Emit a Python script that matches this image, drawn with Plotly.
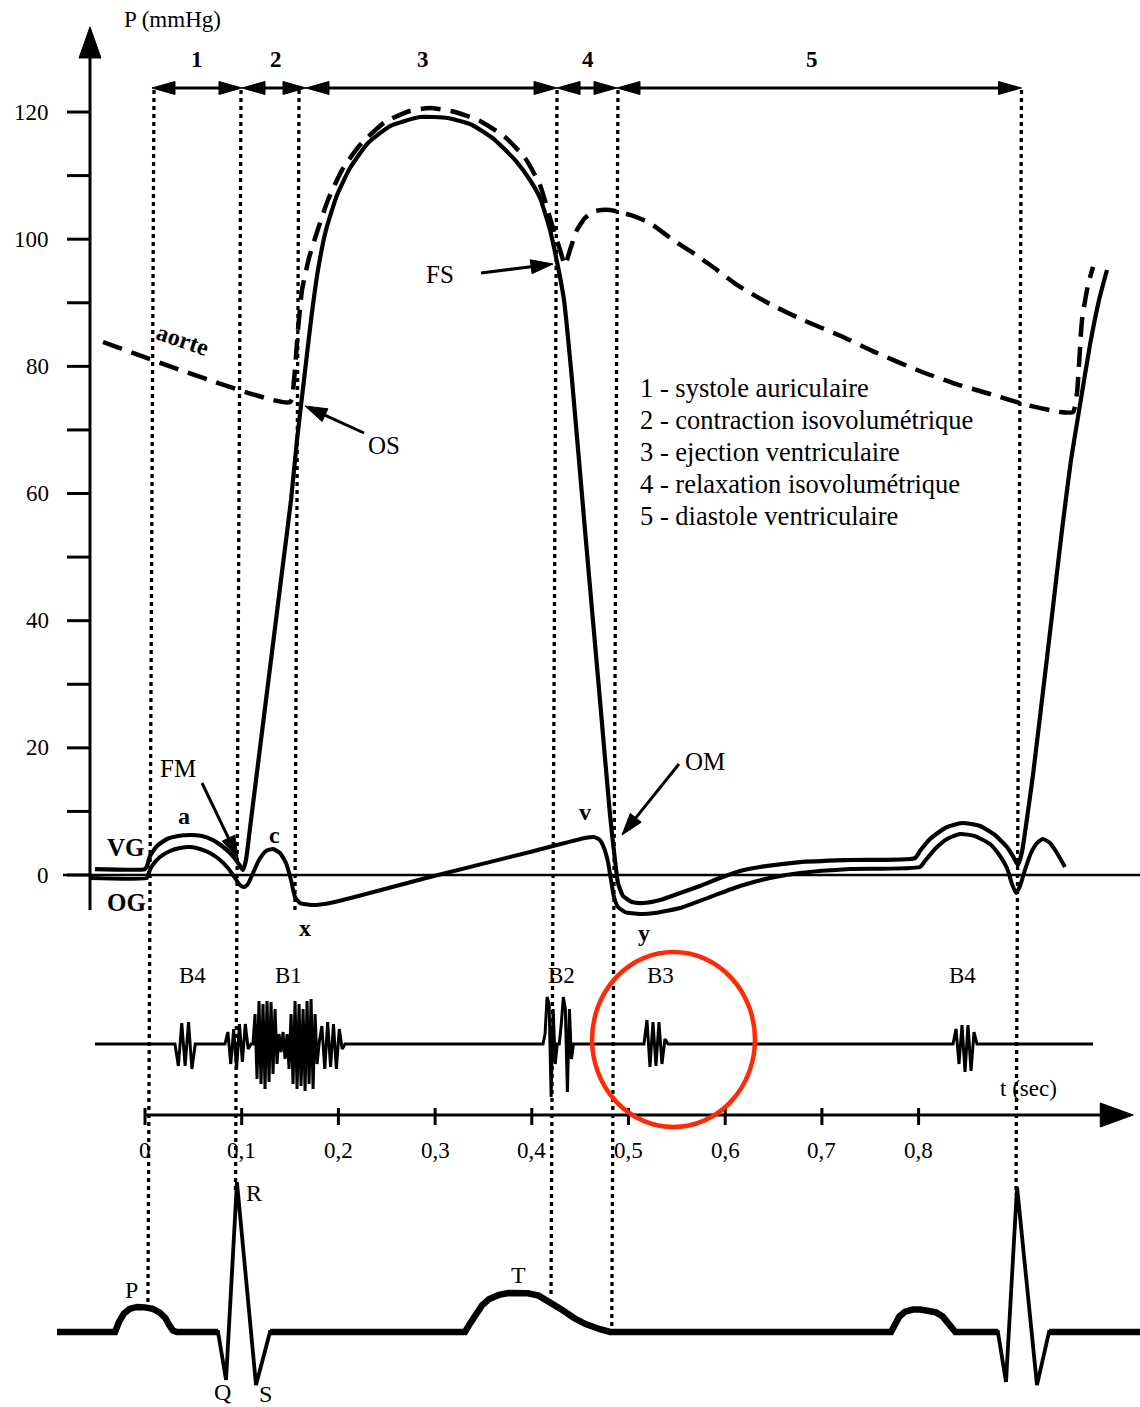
import math
import plotly.graph_objects as go

W, H = 1140, 1407
FONT = "Liberation Serif, Times New Roman, serif"

# ---------------- axis ranges (time in s, pressure in mmHg) ----------------
X_RANGE = [-0.14995, 1.02896]
P_RANGE = [-83.67, 137.62]
SND_RANGE = [-363.0, 1044.0]     # phonocardiogram, arbitrary amplitude units
ECG_RANGE = [-0.5357, 9.514]     # ECG, mV

# ---------------- pressure curves ----------------
vg_t = [-0.0517, 0.0, 0.0021, 0.0052, 0.0124, 0.0228, 0.0341, 0.0465, 0.0589, 0.0703, 0.0796, 0.0879, 0.0941, 0.0982, 0.1013,
        0.1044, 0.1086, 0.1148, 0.1241, 0.1334, 0.1427, 0.1510, 0.1572, 0.1644, 0.1717, 0.1789, 0.1872, 0.1986, 0.2120, 0.2306,
        0.2534, 0.2844, 0.3133, 0.3382, 0.3619, 0.3826, 0.3981, 0.4085, 0.4188, 0.4261, 0.4333, 0.4416, 0.4550, 0.4705, 0.4809,
        0.4860, 0.4891, 0.4943, 0.5036, 0.5150, 0.5326, 0.5533, 0.5739, 0.5946, 0.6153, 0.6360, 0.6774, 0.7290, 0.7963,
        0.8014, 0.8118, 0.8273, 0.8449, 0.8635, 0.8790, 0.8914, 0.8987, 0.9028,
        0.9069, 0.9121, 0.9183, 0.9276, 0.9380, 0.9483, 0.9576, 0.9669, 0.9772, 0.9866, 0.9948]
vg_p = [0.94, 0.94, 1.42, 2.99, 4.56, 5.66, 6.13, 6.29, 6.13, 5.50, 4.56, 3.46, 2.36, 1.42, 0.79,
        2.36, 7.39, 14.94, 26.27, 37.59, 48.91, 58.98, 68.42, 77.85, 87.29, 95.16, 101.45, 106.95, 111.20, 115.13,
        117.80, 119.22, 119.06, 117.96, 115.60, 112.46, 109.31, 106.48, 101.45, 96.41, 90.44, 77.85, 54.26, 27.52, 9.44,
        2.36, -1.26, -3.30, -4.25, -4.40, -3.93, -2.83, -1.73, -0.47, 0.63, 1.26, 2.04, 2.36, 2.67,
        3.77, 5.66, 7.39, 8.18, 7.71, 6.29, 4.40, 2.67, 1.57,
        3.62, 8.9, 15.73, 27.52, 40.89, 54.26, 65.27, 73.92, 83.36, 90.44, 95.16]

og_t = [-0.0569, 0.0021, 0.0031, 0.0072, 0.0155, 0.0259, 0.0362, 0.0465, 0.0569, 0.0672, 0.0776, 0.0858, 0.0931, 0.0982, 0.1024, 0.1065,
        0.1117, 0.1179, 0.1251, 0.1324, 0.1396, 0.1458, 0.1510, 0.1551, 0.1603, 0.1727, 0.1913, 0.2947, 0.3981, 0.4550, 0.4643,
        0.4705, 0.4747, 0.4788, 0.4819, 0.4850, 0.4891, 0.4964, 0.5119, 0.5274, 0.5533, 0.5843, 0.6153, 0.6463, 0.6774, 0.7290, 0.8014,
        0.8066, 0.8170, 0.8294, 0.8428, 0.8583, 0.8738, 0.8842, 0.8914, 0.8966, 0.9007, 0.9049, 0.9100, 0.9162, 0.9224, 0.9286,
        0.9359, 0.9431, 0.9514]
og_p = [-0.47, -0.47, 0.0, 1.42, 2.83, 3.77, 4.25, 4.40, 4.09, 3.46, 2.36, 1.10, -0.47, -1.57, -1.89, -1.42,
        0.31, 2.36, 3.77, 4.09, 3.46, 1.89, -0.79, -3.46, -4.40, -4.72, -4.40, -0.31, 3.62, 5.82, 5.98,
        5.50, 4.25, 2.04, -0.79, -3.46, -5.03, -5.82, -6.13, -5.98, -5.19, -3.46, -1.73, -0.47, 0.31, 0.94, 1.26,
        2.20, 4.09, 5.66, 6.45, 6.13, 4.88, 2.99, 1.10, -1.42, -2.83, -1.73, 0.79, 3.46, 5.03, 5.66,
        5.03, 3.46, 1.26]

ao_t = [-0.0434, 0.1499, 0.1541, 0.1582, 0.1624, 0.1696, 0.1779, 0.1892, 0.2037, 0.2223,
        0.2482, 0.2740, 0.2947, 0.3206, 0.3464, 0.3723, 0.3930, 0.4085, 0.4209, 0.4292,
        0.4343, 0.4395, 0.4467, 0.4550, 0.4654, 0.4809, 0.5016, 0.5222, 0.5460, 0.5667,
        0.5874, 0.6122, 0.6463, 0.6805, 0.7218, 0.7570, 0.7984, 0.8356, 0.8738, 0.9121,
        0.9462, 0.9597, 0.9638, 0.9690, 0.9752, 0.9804]
ao_p = [83.83, 74.39, 77.85, 85.72, 92.01, 97.04, 101.13, 106.16, 110.88, 114.82,
        118.43, 120.16, 120.64, 120.01, 118.59, 116.07, 112.77, 108.52, 102.23, 98.30,
        95.94, 98.30, 101.45, 103.33, 104.44, 104.59, 103.81, 102.55, 99.87, 97.83,
        95.63, 92.80, 89.80, 87.29, 84.62, 82.10, 79.43, 77.38, 75.65, 73.92,
        72.82, 72.82, 75.81, 87.29, 92.80, 95.63]

# ---------------- heart sounds (phonocardiogram) ----------------
snd_start, snd_end = -0.0517, 0.9804
burst_onsets = [0.031, 0.0827, 0.1117, 0.1799, 0.4116, 0.516, 0.8356]
burst_steps = [0.0035, 0.003, 0.00207, 0.003, 0.0021, 0.0031, 0.0031]
burst_amps = [
    [0, -22, 21, -22, 22, -25, 0],
    [0, 12, -20, 15, -25, 20, -18, 20, -5, 0],
    [0, 30, -35, 43, -40, 40, -45, 43, -38, 42, -30, 35, -20, 10, -8, 12, -15, 10, -25, 30,
     -40, 43, -45, 40, -42, 35, -47, 43, -40, 45, -45, 30, -20, 0],
    [0, 18, -25, 22, -23, 20, -25, 15, -5, 0],
    [0, 10, 47, 40, -53, 35, -20, 0, 0, 20, 47, 35, -48, 35, -15, 0],
    [0, 24, -23, 22, -22, 22, -20, 5, 0],
    [0, 15, -20, 19, -28, 19, -27, 12, 0],
]
sound_labels = ["B4", "B1", "B2", "B3", "B4"]
sound_label_t = [0.0491, 0.1479, 0.4312, 0.5326, 0.8449]

# ---------------- ECG ----------------
ecg_t = [-0.091, -0.031, -0.027, -0.022, -0.016, -0.008, 0.000, 0.008, 0.015, 0.021,
         0.025, 0.029, 0.033, 0.0755, 0.0838, 0.0951, 0.1148, 0.1293, 0.3309, 0.336,
         0.342, 0.3485, 0.356, 0.366, 0.376, 0.386, 0.396, 0.407, 0.42, 0.432,
         0.4436, 0.455, 0.4705, 0.481, 0.7715, 0.775, 0.780, 0.786, 0.794, 0.802,
         0.81, 0.818, 0.825, 0.830, 0.834, 0.838, 0.882, 0.8904, 0.9018, 0.9224,
         0.9349, 1.03]
ecg_mv = [0, 0, 0.07, 0.13, 0.165, 0.179, 0.176, 0.165, 0.14, 0.10,
          0.05, 0.01, 0, 0, -0.343, 1.07, -0.379, 0, 0, 0.06,
          0.13, 0.19, 0.235, 0.265, 0.278, 0.281, 0.276, 0.26, 0.21, 0.155,
          0.10, 0.058, 0.02, 0, 0, 0.05, 0.11, 0.145, 0.16, 0.16,
          0.155, 0.14, 0.11, 0.06, 0.02, 0, 0, -0.357, 1.036, -0.379,
          0, 0]

# ---------------- axes / events ----------------
pressure_ticks = [0, 20, 40, 60, 80, 100, 120]
pressure_minor = [10, 30, 50, 70, 90, 110]
time_ticks = [0, 0.1, 0.2, 0.3, 0.4, 0.5, 0.6, 0.7, 0.8]
time_labels = ["0", "0,1", "0,2", "0,3", "0,4", "0,5", "0,6", "0,7", "0,8"]
phase_numbers = ["1", "2", "3", "4", "5"]
phase_label_t = [0.0537, 0.1355, 0.2875, 0.4581, 0.6897]
phase_edges = [0.0072, 0.1003, 0.1665, 0.4261, 0.4881, 0.9064]
event_times = [0.0093, 0.0993, 0.1593, 0.4261, 0.4891, 0.9064]
phase_legend = ["1 - systole auriculaire", "2 - contraction isovolumétrique",
                "3 - ejection ventriculaire", "4 - relaxation isovolumétrique",
                "5 - diastole ventriculaire"]

# ---------------- helpers ----------------
TX = (X_RANGE[1] - X_RANGE[0]) / W    # seconds per pixel


def px(x):
    return x / W


def py(y):
    return 1 - y / H


shapes = []
annotations = []


def seg(x0, y0, x1, y1, width=3, xref="paper", yref="paper", dash=None, layer="above", color="black"):
    d = dict(type="line", x0=x0, y0=y0, x1=x1, y1=y1, xref=xref, yref=yref, layer=layer,
             line=dict(color=color, width=width))
    if dash:
        d["line"]["dash"] = dash
    shapes.append(d)


def arrow_px(x0, y0, x1, y1, L=22, hw=7, width=3):
    dx, dy = x1 - x0, y1 - y0
    d = math.hypot(dx, dy)
    ux, uy = dx / d, dy / d
    bx, by = x1 - ux * L, y1 - uy * L
    nx, ny = -uy, ux
    seg(px(x0), py(y0), px(bx + ux * 2), py(by + uy * 2), width=width)
    path = "M {:.5f},{:.5f} L {:.5f},{:.5f} L {:.5f},{:.5f} Z".format(
        px(x1), py(y1), px(bx + nx * hw), py(by + ny * hw), px(bx - nx * hw), py(by - ny * hw))
    shapes.append(dict(type="path", path=path, xref="paper", yref="paper",
                       fillcolor="black", line=dict(color="black", width=1)))


def text(s, x, y, size=24, bold=False, anchor="center", angle=0, xref="paper"):
    if bold:
        s = "<b>" + s + "</b>"
    annotations.append(dict(text=s, x=(px(x) if xref == "paper" else x), y=py(y), xref=xref, yref="paper",
                            showarrow=False, xanchor=anchor, yanchor="middle", textangle=angle,
                            font=dict(family=FONT, size=size, color="black")))


fig = go.Figure()

# pressure curves
fig.add_trace(go.Scatter(x=ao_t, y=ao_p, mode="lines", name="aorte",
                         line=dict(color="black", width=4.5, dash="20px,10px", shape="spline", smoothing=0.5)))
fig.add_trace(go.Scatter(x=og_t, y=og_p, mode="lines", name="OG",
                         line=dict(color="black", width=4, shape="spline", smoothing=0.5)))
fig.add_trace(go.Scatter(x=vg_t, y=vg_p, mode="lines", name="VG",
                         line=dict(color="black", width=4.2, shape="spline", smoothing=0.5)))

# heart sounds
snd_t, snd_a = [snd_start], [0]
for t0, dt, amps in zip(burst_onsets, burst_steps, burst_amps):
    for i, a in enumerate(amps):
        snd_t.append(t0 + i * dt)
        snd_a.append(a)
snd_t.append(snd_end)
snd_a.append(0)
fig.add_trace(go.Scatter(x=snd_t, y=snd_a, mode="lines", yaxis="y2", name="sons",
                         line=dict(color="black", width=3)))

# ECG: thin QRS complexes, thicker baseline / P / T waves
fig.add_trace(go.Scatter(x=ecg_t, y=ecg_mv, mode="lines", yaxis="y3", name="ECG",
                         line=dict(color="black", width=3.8)))
ecg_thick = [v if abs(v) < 0.3 else None for v in ecg_mv]
fig.add_trace(go.Scatter(x=ecg_t, y=ecg_thick, mode="lines", yaxis="y3", name="ECG2",
                         connectgaps=False, line=dict(color="black", width=6.5)))

# ---- pressure axis ----
AX_X = 90
seg(px(AX_X), -5.5, px(AX_X), 129.0, width=3, yref="y")
shapes.append(dict(type="path", xref="paper", yref="y", fillcolor="black", line=dict(color="black", width=1),
                   path="M {:.5f},133.4 L {:.5f},128.5 L {:.5f},128.5 Z".format(px(AX_X), px(AX_X - 11), px(AX_X + 11))))
for v in pressure_ticks + pressure_minor:
    seg(px(67), v, px(AX_X), v, width=3, yref="y")
for v in pressure_ticks:
    annotations.append(dict(text=str(v), x=px(51), y=v, xref="paper", yref="y", showarrow=False,
                            xanchor="right", yanchor="middle", font=dict(family=FONT, size=23, color="black")))
# zero line
seg(px(63), 0, 1.0, 0, width=2.5, yref="y")
text("P (mmHg)", 172, 20, size=23)

# ---- time axis ----
T_AX_Y = 1115
t_tip = 1.022
seg(0.0, py(T_AX_Y), t_tip - 30 * TX, py(T_AX_Y), width=3, xref="x")
shapes.append(dict(type="path", xref="x", yref="paper", fillcolor="black", line=dict(color="black", width=1),
                   path="M {:.5f},{:.5f} L {:.5f},{:.5f} L {:.5f},{:.5f} Z".format(
                       t_tip, py(T_AX_Y), t_tip - 33 * TX, py(T_AX_Y - 12), t_tip - 33 * TX, py(T_AX_Y + 12))))
for t, lab in zip(time_ticks, time_labels):
    seg(t, py(1108), t, py(1125), width=3, xref="x")
    text(lab, t, 1150, size=23, xref="x")
text("t (sec)", 1028, 1088, size=23)

# ---- event (dotted) lines ----
line_bottoms = [1312, 1190, 910, 1297, 1327, 1195]
for t, yb in zip(event_times, line_bottoms):
    skew = (yb - 90) * 5.5 / 1100 * TX
    seg(t, py(90), t - skew, py(yb), width=3.3, xref="x", dash="4px,4px", layer="below")

# ---- phase arrows ----
PH_Y = 88
HL, HW = 23 * TX, 6.5 / H
for i in range(len(phase_numbers)):
    a, b = phase_edges[i], phase_edges[i + 1]
    seg(a + 5 * TX, py(PH_Y), b - 5 * TX, py(PH_Y), width=3, xref="x")
    for tip, d in ((a, -1), (b, 1)):
        shapes.append(dict(type="path", xref="x", yref="paper", fillcolor="black",
                           line=dict(color="black", width=1),
                           path="M {:.5f},{:.5f} L {:.5f},{:.5f} L {:.5f},{:.5f} Z".format(
                               tip, py(PH_Y), tip - d * HL, py(PH_Y) + HW, tip - d * HL, py(PH_Y) - HW)))
for lab, t in zip(phase_numbers, phase_label_t):
    text(lab, t, 60, size=23, bold=True, xref="x")

# ---- phase legend ----
for k, s in enumerate(phase_legend):
    text(s, 638, 388 + 32 * k, size=26.5, anchor="left")

# ---- labels ----
text("aorte", 183, 340, size=24, bold=True, angle=19)
text("FS", 440, 274, size=25)
text("OS", 384, 446, size=25)
text("FM", 178, 768, size=25)
text("OM", 705, 761, size=25)
text("VG", 126, 847, size=25, bold=True)
text("OG", 126, 902, size=25, bold=True)
text("a", 184, 816, size=24, bold=True)
text("c", 274, 835, size=24, bold=True)
text("x", 305, 928, size=24, bold=True)
text("v", 585, 812, size=24, bold=True)
text("y", 644, 933, size=24, bold=True)

arrow_px(202, 783, 238, 858)
arrow_px(481, 273, 553, 264)
arrow_px(364, 433, 305, 406)
arrow_px(679, 764, 622, 835)

# heart sound labels
for s, t in zip(sound_labels, sound_label_t):
    text(s, t, 975, size=23, xref="x")

# ECG labels
text("P", 131, 1290, size=24)
text("R", 254, 1193, size=24)
text("Q", 222, 1392, size=24)
text("S", 265, 1394, size=24)
text("T", 518, 1275, size=24)

# red circle around B3
shapes.append(dict(type="circle", xref="x", yref="y2", x0=0.4623, x1=0.6308, y0=-83, y1=92,
                   line=dict(color="#ff2a06", width=4.5), layer="above"))

fig.update_layout(
    width=W, height=H, autosize=False,
    margin=dict(l=0, r=0, t=0, b=0),
    paper_bgcolor="white", plot_bgcolor="white",
    showlegend=False,
    xaxis=dict(range=X_RANGE, visible=False, fixedrange=True),
    yaxis=dict(range=P_RANGE, visible=False, fixedrange=True),
    yaxis2=dict(range=SND_RANGE, visible=False, overlaying="y", fixedrange=True),
    yaxis3=dict(range=ECG_RANGE, visible=False, overlaying="y", fixedrange=True),
    shapes=shapes,
    annotations=annotations,
)

fig.write_html("out.html", config={"displayModeBar": False},
               post_script="document.body.style.margin='0';document.body.style.overflow='hidden';")
